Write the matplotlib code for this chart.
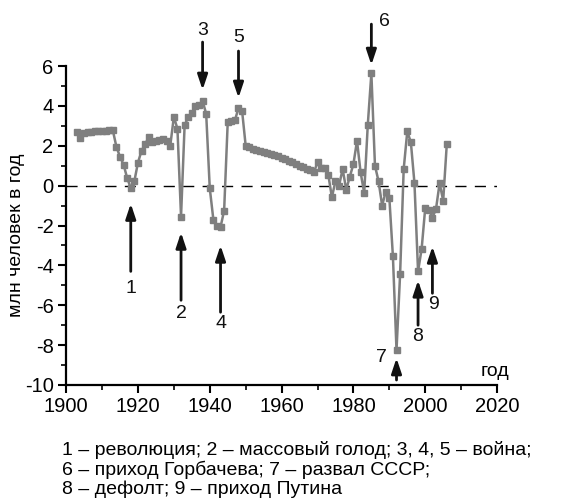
import numpy as np
import matplotlib.pyplot as plt
from matplotlib.ticker import MultipleLocator

plt.rcParams['font.family'] = ['Liberation Sans', 'DejaVu Sans']
plt.rcParams['axes.unicode_minus'] = False

years = np.arange(1903, 2007)
growth = [2.70, 2.37, 2.65, 2.68, 2.70, 2.72, 2.73, 2.75, 2.76, 2.77,
          2.78, 1.95, 1.45, 1.05, 0.38, -0.12, 0.22, 1.15, 1.75, 2.08,
          2.42, 2.17, 2.25, 2.30, 2.35, 2.25, 2.00, 3.45, 2.85, -1.55,
          3.05, 3.42, 3.65, 4.00, 4.05, 4.25, 3.60, -0.13, -1.70, -2.00,
          -2.08, -1.25, 3.18, 3.25, 3.28, 3.88, 3.75, 2.00, 1.92, 1.86,
          1.80, 1.75, 1.70, 1.65, 1.60, 1.55, 1.50, 1.40, 1.32, 1.24,
          1.16, 1.08, 1.00, 0.92, 0.84, 0.76, 0.67, 1.17, 0.90, 0.87,
          0.55, -0.58, 0.22, 0.00, 0.83, -0.20, 0.45, 1.08, 2.25, 0.67,
          -0.37, 3.05, 5.63, 1.00, 0.22, -1.00, -0.30, -0.60, -3.55, -8.25,
          -4.45, 0.83, 2.72, 2.17, 0.12, -4.30, -3.17, -1.12, -1.22, -1.60,
          -1.17, 0.12, -0.75, 2.08]

# events: label, year, arrow tail, arrow tip, label y
ev_labels = ['1', '2', '3', '4', '5', '6', '7', '8', '9']
ev_years = [1918, 1932, 1938, 1943, 1948, 1985, 1992, 1998, 2002]
ev_tail = [-4.3, -5.75, 7.2, -6.35, 6.75, 8.1, -9.75, -7.0, -5.4]
ev_tip = [-0.9, -2.35, 4.8, -3.0, 4.4, 6.05, -8.65, -4.75, -3.05]
ev_text_y = [-5.15, -6.4, 7.8, -6.9, 7.45, 8.25, -8.6, -7.55, -5.95]
ev_text_dx = [0, 0, 0, 0, 0, 3.6, -4.2, 0, 0.4]

notes = ['1 – революция; 2 – массовый голод; 3, 4, 5 – война;',
         '6 – приход Горбачева; 7 – развал СССР;',
         '8 – дефолт; 9 – приход Путина']

fig = plt.figure(figsize=(5.8, 5.0), dpi=100)
ax = fig.add_axes([0.114, 0.23, 0.743, 0.638])

ax.plot(years, growth, color='#7f7f7f', lw=1.8, marker='s', ms=4.2,
        mec='#7f7f7f', mfc='#7f7f7f', zorder=3)
ax.axhline(0, color='k', lw=1, ls=(0, (8, 6)), zorder=2)

for lab, yr, t0, t1, ty, dx in zip(ev_labels, ev_years, ev_tail, ev_tip,
                                  ev_text_y, ev_text_dx):
    ax.annotate('', xy=(yr, t1), xytext=(yr, t0), annotation_clip=False,
                arrowprops=dict(arrowstyle='-|>,head_width=0.3,head_length=0.9',
                                lw=2, color='#111111', shrinkA=0, shrinkB=0))
    ax.text(yr + dx, ty, lab, fontsize=14, ha='center', va='center',
            color='#111111', clip_on=False)

ax.text(2019.4, -9.3, 'год', fontsize=14, ha='center', va='center',
        clip_on=False)

ax.set_xlim(1900, 2020)
ax.set_ylim(-10, 6)
ax.xaxis.set_major_locator(MultipleLocator(20))
ax.xaxis.set_minor_locator(MultipleLocator(10))
ax.yaxis.set_major_locator(MultipleLocator(2))
ax.yaxis.set_minor_locator(MultipleLocator(1))
for s in ['top', 'right']:
    ax.spines[s].set_visible(False)
for s in ['left', 'bottom']:
    ax.spines[s].set_linewidth(1.6)
ax.tick_params(which='major', length=6, width=1.5, labelsize=14.5,
               direction='out', pad=3)
ax.tick_params(which='minor', length=3.5, width=1.2, direction='out')
ax.set_ylabel('млн человек в год', fontsize=14)
ax.yaxis.set_label_coords(-0.095, 0.47)

for i, line in enumerate(notes):
    fig.text(0.107, 0.1 - i * 0.039, line, fontsize=14, va='center')

fig.savefig('out.png', dpi=100)
